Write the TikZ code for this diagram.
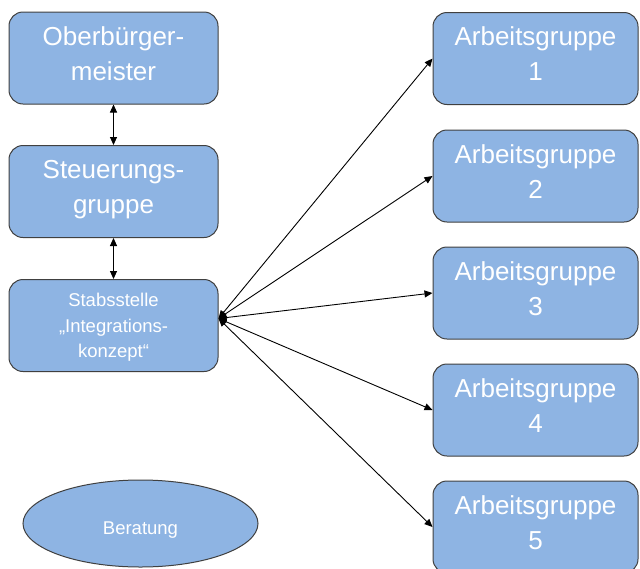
\documentclass[tikz,border=0pt]{standalone}
\usepackage{fontspec}
\setmainfont{Liberation Sans}
\usetikzlibrary{arrows.meta,shapes.geometric}
\definecolor{boxfill}{HTML}{8EB4E3}
\definecolor{boxline}{HTML}{404040}
\newcommand{\topstrut}[1]{\rule{0pt}{#1}}
\newcommand{\botstrut}[1]{\rule[-#1]{0pt}{0pt}}
\tikzset{
  orgbox/.style={draw=boxline, line width=1pt, fill=boxfill, rounded corners=14pt,
    minimum width=209pt, minimum height=92pt, text=white, align=center,
    inner sep=0pt, font=\fontsize{26}{35}\selectfont},
  agbox/.style={orgbox, minimum width=205pt},
  smallbox/.style={orgbox, font=\fontsize{18.5}{25.5}\selectfont},
  ovalbox/.style={draw=boxline, line width=1pt, fill=boxfill, ellipse,
    minimum width=235pt, minimum height=87pt, text=white, inner sep=0pt,
    font=\fontsize{18.5}{25.5}\selectfont},
  link/.style={{Triangle[length=8pt,width=7pt]}-{Triangle[length=8pt,width=7pt]}, line width=0.9pt, black}
}
\begin{document}
\begin{tikzpicture}[x=1pt,y=-1pt]
\useasboundingbox (0,0) rectangle (640,568);
\node[orgbox] (ob) at (113.5,58) {\topstrut{19pt}Oberbürger-\\meister\botstrut{10pt}};
\node[orgbox] (sg) at (113.5,191.5) {\topstrut{19pt}Steuerungs-\\gruppe\botstrut{10pt}};
\node[smallbox] (st) at (113.5,325.5) {\topstrut{17.5pt}Stabsstelle\\„Integrations-\\konzept“};
\node[ovalbox] (ber) at (140.5,523.5) {\topstrut{25pt}Beratung};
\node[agbox] (ag1) at (535.5,58.5) {\topstrut{19pt}Arbeitsgruppe\\1\botstrut{10pt}};
\node[agbox] (ag2) at (535.5,176) {\topstrut{19pt}Arbeitsgruppe\\2\botstrut{10pt}};
\node[agbox] (ag3) at (535.5,293) {\topstrut{19pt}Arbeitsgruppe\\3\botstrut{10pt}};
\node[agbox] (ag4) at (535.5,410) {\topstrut{19pt}Arbeitsgruppe\\4\botstrut{10pt}};
\node[agbox] (ag5) at (535.5,527) {\topstrut{19pt}Arbeitsgruppe\\5\botstrut{10pt}};
\coordinate (hub) at ([yshift=7pt]st.east);
\draw[link] (ob.south) -- (sg.north);
\draw[link] (sg.south) -- (st.north);
\foreach \i in {1,...,5}{
  \draw[link] (hub) -- (ag\i.west);
}
\end{tikzpicture}
\end{document}
